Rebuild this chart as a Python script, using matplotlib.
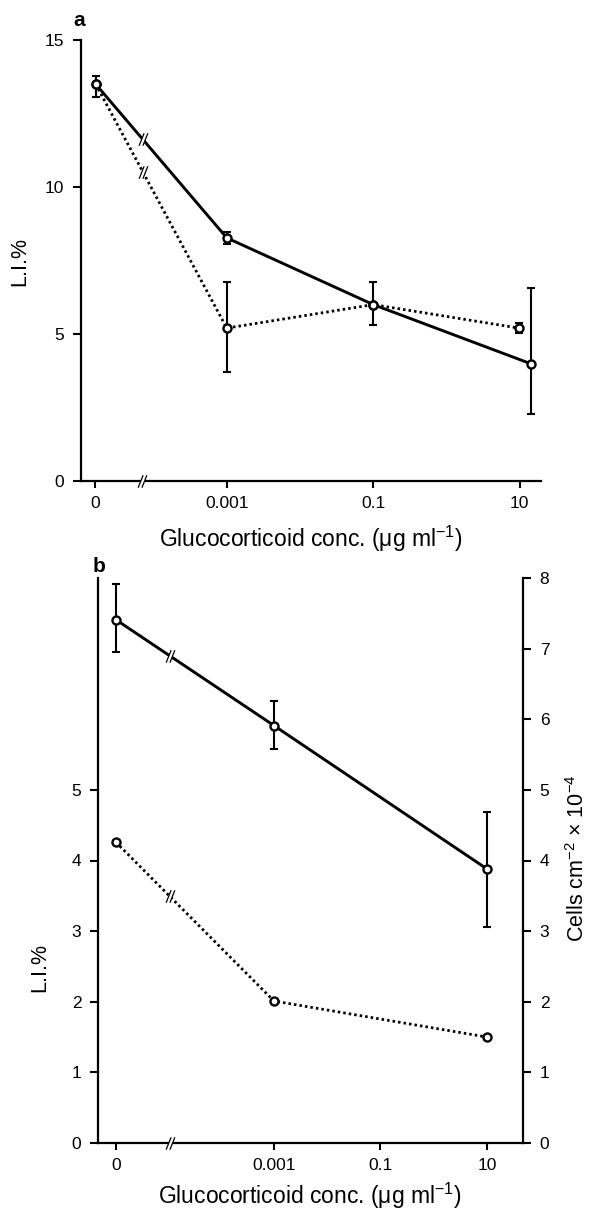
import numpy as np
import matplotlib
matplotlib.use("Agg")
import matplotlib.pyplot as plt
from matplotlib.path import Path

plt.rcParams['font.family'] = ['Liberation Sans', 'DejaVu Sans']
plt.rcParams['mathtext.fontset'] = 'custom'
plt.rcParams['mathtext.rm'] = 'Liberation Sans'
plt.rcParams['mathtext.it'] = 'Liberation Sans:italic'
plt.rcParams['mathtext.bf'] = 'Liberation Sans:bold'

# ---- data ----
tick_conc = [0, 0.001, 0.1, 10]
tick_labels = ["0", "0.001", "0.1", "10"]

# panel a: labelling index (%)
a_conc = [0, 0.001, 0.1, 10]
a_solid = [13.5, 8.27, 6.0, 3.98]
a_solid_lo = [0.44, 0.2, 0.69, 1.70]
a_solid_hi = [0.28, 0.2, 0.77, 2.58]
a_dotted = [13.5, 5.2, 6.0, 5.2]
a_dotted_lo = [0.0, 1.49, 0.0, 0.18]
a_dotted_hi = [0.0, 1.57, 0.0, 0.18]

# panel b: cell density (right axis) and labelling index (left axis)
b_conc = [0, 0.001, 10]
b_cells = [7.41, 5.91, 3.88]
b_cells_lo = [0.46, 0.33, 0.82]
b_cells_hi = [0.51, 0.35, 0.81]
b_li = [4.26, 2.01, 1.50]

W, H = 591, 1212
fig = plt.figure(figsize=(W / 100, H / 100), dpi=100)


def px_box(left, right, top, bottom):
    return [left / W, 1 - bottom / H, (right - left) / W, (bottom - top) / H]


def positions(conc, zero_pos):
    return np.array([zero_pos if c == 0 else np.log10(c) for c in conc])


# break symbol: two parallel slashes, plus a white fill that erases the line between them
_M, _L, _C = Path.MOVETO, Path.LINETO, Path.CLOSEPOLY
SLASH = Path([(-0.7, -1), (0.1, 1), (-0.1, -1), (0.7, 1)], [_M, _L, _M, _L])
GAP = Path([(-0.7, -1), (-0.1, -1), (0.7, 1), (0.1, 1), (-0.7, -1)], [_M, _L, _L, _L, _C])


def break_mark(ax, x, y, size=9):
    ax.plot([x], [y], marker=GAP, ms=size, mfc='white', mec='none', mew=0,
            ls='none', zorder=6, clip_on=False)
    ax.plot([x], [y], marker=SLASH, ms=size, mfc='none', mec='black', mew=0.9,
            ls='none', zorder=7, clip_on=False)


def series(ax, x, y, lo, hi, ls):
    x, y, lo, hi = map(np.asarray, (x, y, lo, hi))
    if ls == 'solid':
        ax.plot(x, y, color='black', lw=2.1, ls='-', zorder=3)
    else:
        ax.plot(x, y, color='black', lw=2.0, ls=(0, (0.9, 1.1)),
                dash_capstyle='butt', zorder=3)
    m = (lo + hi) > 0
    if m.any():
        ax.errorbar(x[m], y[m], yerr=[lo[m], hi[m]], fmt='none', ecolor='black',
                    elinewidth=1.5, capsize=2.8, capthick=1.5, zorder=4)
    ax.plot(x, y, ls='none', marker='o', ms=5.8, mfc='white', mec='black',
            mew=1.7, zorder=8)


def style_axis(ax, xlim, ylim):
    ax.set_xlim(*xlim)
    ax.set_ylim(*ylim)
    for s in ('top', 'right'):
        ax.spines[s].set_visible(False)
    for s in ('left', 'bottom'):
        ax.spines[s].set_linewidth(1.6)
    ax.tick_params(axis='x', direction='out', length=5, width=1.5,
                   labelsize=12.5, pad=6)
    ax.tick_params(axis='y', direction='out', length=6, width=1.5,
                   labelsize=12.5, pad=6)


# ---------------- panel a ----------------
A_ZERO = -4.80
axa = fig.add_axes(px_box(81, 541, 40, 481))
style_axis(axa, (-4.99, 1.29), (0, 15))
axa.set_xticks(positions(tick_conc, A_ZERO))
axa.set_xticklabels(tick_labels)
axa.set_yticks([0, 5, 10, 15])

xa = positions(a_conc, A_ZERO)
xa_solid = xa + np.array([0.01, 0, 0, 0.16])
xa_dotted = xa + np.array([0.01, 0, 0, -0.01])
series(axa, xa_dotted, a_dotted, a_dotted_lo, a_dotted_hi, 'dotted')
series(axa, xa_solid, a_solid, a_solid_lo, a_solid_hi, 'solid')

f = 0.36
for xs, ys in ((xa_solid, a_solid), (xa_dotted, a_dotted)):
    break_mark(axa, xs[0] + f * (xs[1] - xs[0]), ys[0] + f * (ys[1] - ys[0]))
break_mark(axa, xa[0] + f * (xa[1] - xa[0]), 0)

# ---------------- panel b ----------------
B_ZERO = -5.97
axb = fig.add_axes(px_box(98, 523, 578, 1143))
style_axis(axb, (-6.305, 1.676), (0, 8))
axb.set_xticks(positions(tick_conc, B_ZERO))
axb.set_xticklabels(tick_labels)
axb.set_yticks([0, 1, 2, 3, 4, 5])

axr = axb.twinx()
axr.set_ylim(0, 8)
for s in ('top', 'left', 'bottom'):
    axr.spines[s].set_visible(False)
axr.spines['right'].set_linewidth(1.6)
axr.set_yticks(range(0, 9))
axr.tick_params(axis='y', direction='out', length=6, width=1.5,
                labelsize=12.5, pad=6)

xb = positions(b_conc, B_ZERO)
series(axb, xb, b_li, [0, 0, 0], [0, 0, 0], 'dotted')
series(axr, xb, b_cells, b_cells_lo, b_cells_hi, 'solid')

f = 0.34
break_mark(axr, xb[0] + f * (xb[1] - xb[0]), b_cells[0] + f * (b_cells[1] - b_cells[0]))
break_mark(axb, xb[0] + f * (xb[1] - xb[0]), b_li[0] + f * (b_li[1] - b_li[0]))
break_mark(axb, xb[0] + f * (xb[1] - xb[0]), 0)

# ---------------- labels ----------------
xlabel = "Glucocorticoid conc. (μg ml$^{-1}$)"
fig.text(311 / W, 1 - 547 / H, xlabel, ha='center', va='baseline', fontsize=16.5)
fig.text(310 / W, 1 - 1204 / H, xlabel, ha='center', va='baseline', fontsize=16.5)

fig.text(20 / W, 1 - 261 / H, "L.I.%", rotation=90, ha='center', va='center',
         fontsize=15.5)
fig.text(40 / W, 1 - 967 / H, "L.I.%", rotation=90, ha='center', va='center',
         fontsize=15.5)
fig.text(578 / W, 1 - 858 / H, "Cells cm$^{-2}$ × 10$^{-4}$", rotation=90,
         ha='center', va='center', fontsize=15.5)

fig.text(79 / W, 1 - 20 / H, "a", ha='center', va='center', fontsize=15,
         fontweight='bold')
fig.text(99 / W, 1 - 567 / H, "b", ha='center', va='center', fontsize=15,
         fontweight='bold')

fig.savefig("out.png", dpi=100)
